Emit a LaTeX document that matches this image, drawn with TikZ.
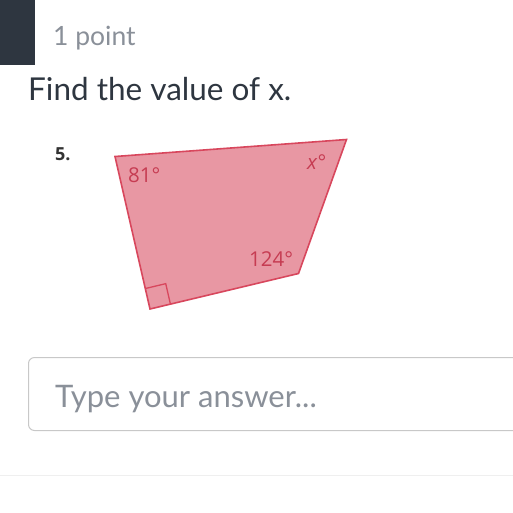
\documentclass[tikz,border=0pt]{standalone}
\usepackage{fontspec}
\setmainfont{Lato}
\newfontfamily\figfont{Open Sans}
\usetikzlibrary{calc}
\definecolor{darkblk}{HTML}{2E3640}
\definecolor{greytxt}{HTML}{8A9099}
\definecolor{shapefill}{HTML}{E897A3}
\definecolor{shapeedge}{HTML}{D8475D}
\definecolor{labelred}{HTML}{C63C52}
\definecolor{boxedge}{HTML}{C8C8C8}
\definecolor{sepline}{HTML}{EFEFEF}
\tikzset{
  ui/.style={inner sep=0pt, anchor=base west},
  anglelbl/.style={inner sep=0pt, text=labelred, font=\figfont\fontsize{20.5}{20.5}\selectfont},
}
\begin{document}
\begin{tikzpicture}[x=1pt,y=-1pt]
\useasboundingbox (0,0) rectangle (513,512);
\fill[white] (0,0) rectangle (513,512);
% header block
\fill[darkblk] (0,0) rectangle (35,65);
\node[ui, text=greytxt, font=\fontsize{26.5}{26.5}\selectfont] (pts) at (53,45) {1 point};
\node[ui, text=darkblk, font=\fontsize{31.5}{31.5}\selectfont] (q) at (28,100) {Find the value of x.};
\node[ui, text=black!80, font=\figfont\bfseries\fontsize{18}{18}\selectfont] (num) at (55,160) {5.};
% quadrilateral
\coordinate (A) at (115,156.5);
\coordinate (B) at (346.5,139.5);
\coordinate (C) at (298.5,273.5);
\coordinate (D) at (150,309);
\filldraw[fill=shapefill, draw=shapeedge, line width=1.6pt, line join=miter] (A) -- (B) -- (C) -- (D) -- cycle;
% right angle mark
\draw[shapeedge, line width=1.3pt]
  ($(D)!21pt!(A)$) -- ($(D)!21pt!(A)+(D)!21pt!(C)-(D)$) -- ($(D)!21pt!(C)$);
\node[anglelbl, anchor=base west] (a81) at (128,182.5) {81°};
\node[anglelbl, anchor=base west] (ax) at (307,169) {\textit{x}°};
\node[anglelbl, anchor=base west] (a124) at (249,266.5) {124°};
% answer box
\draw[boxedge, line width=1pt, rounded corners=6pt] (530,357.5) -- (28.5,357.5) -- (28.5,430.5) -- (530,430.5);
\node[ui, text=greytxt, font=\fontsize{31}{31}\selectfont] (ans) at (55,407) {Type your answer...};
% separator
\draw[sepline, line width=1pt] (0,475) -- (513,475);
\end{tikzpicture}
\end{document}
